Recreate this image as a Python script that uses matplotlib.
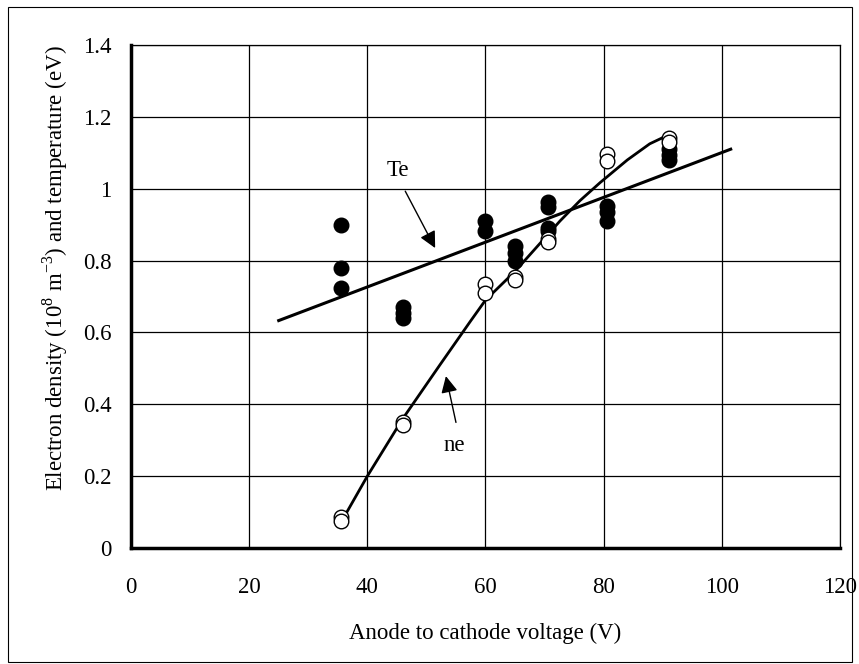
import numpy as np
import matplotlib.pyplot as plt
from matplotlib.patches import Rectangle

# measured points, filled = Te, open = ne
te_x = [35.5, 35.5, 35.5, 46, 46, 46, 60, 60, 65, 65, 65,
        70.5, 70.5, 70.5, 70.5, 80.5, 80.5, 80.5, 91, 91, 91]
te_y = [0.90, 0.78, 0.725, 0.67, 0.655, 0.64, 0.91, 0.883, 0.84, 0.82, 0.80,
        0.962, 0.948, 0.892, 0.883, 0.953, 0.934, 0.911, 1.11, 1.095, 1.08]

ne_x = [35.5, 35.5, 46, 46, 60, 60, 65, 65, 70.5, 70.5, 80.5, 80.5, 91, 91]
ne_y = [0.085, 0.075, 0.352, 0.343, 0.736, 0.711, 0.753, 0.745,
        0.861, 0.851, 1.097, 1.078, 1.14, 1.13]

# fitted Te line (end points)
te_fit_x = [25, 101.5]
te_fit_y = [0.633, 1.11]

# ne trend curve
ne_fit_x = [35.5, 40, 46, 52.3, 57.4, 60, 65, 72.6, 76, 79.4, 84, 87.8, 91]
ne_fit_y = [0.07, 0.20, 0.36, 0.51, 0.63, 0.69, 0.77, 0.91, 0.967, 1.017, 1.08, 1.125, 1.15]

plt.rcParams['font.family'] = ['Liberation Serif', 'DejaVu Serif']
plt.rcParams['mathtext.fontset'] = 'custom'
plt.rcParams['mathtext.rm'] = 'Liberation Serif'

W, H = 859, 664
fs = 16.5

fig = plt.figure(figsize=(W / 100, H / 100), dpi=100)
fig.patches.append(Rectangle((8 / W, 2 / H), 844 / W, 655 / H,
                             transform=fig.transFigure, fill=False,
                             edgecolor='black', linewidth=0.8))

ax = fig.add_axes([131 / W, (H - 548) / H, 709 / W, 503 / H])

ax.plot(te_fit_x, te_fit_y, color='black', lw=2.2, zorder=3)
ax.plot(ne_fit_x, ne_fit_y, color='black', lw=2.0, zorder=3)
ax.plot(te_x, te_y, 'o', color='black', ms=10.5, zorder=4)
ax.plot(ne_x, ne_y, 'o', mfc='white', mec='black', mew=1.0, ms=10.5, zorder=5)

ax.set_xlim(0, 120)
ax.set_ylim(0, 1.4)
ax.set_xticks(np.arange(0, 121, 20))
ax.set_yticks(np.arange(0, 1.41, 0.2))
ax.set_yticklabels(['0', '0.2', '0.4', '0.6', '0.8', '1', '1.2', '1.4'])
ax.grid(True, color='black', lw=0.9)
ax.set_axisbelow(True)
ax.tick_params(length=0, labelsize=fs)
ax.tick_params(axis='x', pad=21)
ax.tick_params(axis='y', pad=14)
for s in ['top', 'right']:
    ax.spines[s].set_linewidth(0.9)
for s in ['left', 'bottom']:
    ax.spines[s].set_linewidth(2.5)

fig.text(485 / W, 1 - 633 / H, 'Anode to cathode voltage (V)', fontsize=fs,
         ha='center', va='center')
fig.text(55 / W, 1 - 268 / H,
         'Electron density (10$^{8}$ m$^{-3}$) and temperature (eV)',
         fontsize=fs, rotation=90, ha='center', va='center')

ax.annotate('', xy=(51.7, 0.828), xytext=(46.2, 1.0),
            arrowprops=dict(arrowstyle='-|>', color='black', lw=1.0,
                            mutation_scale=25), zorder=6)
ax.text(45.2, 1.05, 'Te', fontsize=fs, ha='center', va='center', zorder=6,
        bbox=dict(facecolor='white', edgecolor='none', pad=2))
ax.annotate('', xy=(53.2, 0.486), xytext=(55.1, 0.342),
            arrowprops=dict(arrowstyle='-|>', color='black', lw=1.0,
                            mutation_scale=25), zorder=6)
ax.text(54.7, 0.286, 'ne', fontsize=fs, ha='center', va='center', zorder=6)

fig.savefig('out.png', dpi=100)
